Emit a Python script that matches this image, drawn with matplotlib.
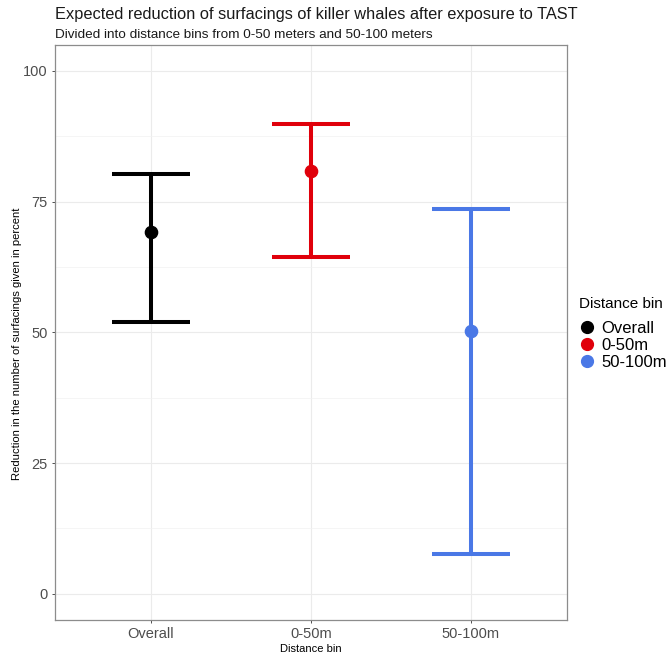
import matplotlib
matplotlib.use("Agg")
import matplotlib.pyplot as plt
from matplotlib.lines import Line2D

plt.rcParams['font.family'] = ['Liberation Sans', 'DejaVu Sans']

categories = ["Overall", "0-50m", "50-100m"]
estimate = [69.2, 80.8, 50.2]
lower = [52.0, 64.4, 7.7]
upper = [80.2, 89.8, 73.5]
colors = ["#000000", "#E0000B", "#4A78E6"]
yticks = [0, 25, 50, 75, 100]

W, H = 672, 658
fig = plt.figure(figsize=(W/100, H/100), dpi=100)
ax = fig.add_axes([54.7/W, 1-620/H, (567-54.7)/W, (620-44.7)/H])

xs = list(range(len(categories)))
half = 0.245
for x, e, lo, hi, c in zip(xs, estimate, lower, upper, colors):
    ax.vlines(x, lo, hi, color=c, lw=2.9, capstyle='butt', zorder=3)
    ax.hlines([lo, hi], x - half, x + half, color=c, lw=2.9, capstyle='butt', zorder=3)
    ax.plot(x, e, 'o', color=c, ms=8.8, zorder=4)

ax.set_xlim(-0.6, len(categories) - 1 + 0.6)
ax.set_ylim(-5, 105)
ax.set_xticks(xs)
ax.set_xticklabels(categories)
ax.set_yticks(yticks)
ax.set_yticks([12.5, 37.5, 62.5, 87.5], minor=True)
ax.grid(True, which='major', color='#EBEBEB', lw=0.8)
ax.grid(True, which='minor', axis='y', color='#F2F2F2', lw=0.5)
ax.set_axisbelow(True)
ax.tick_params(axis='both', which='major', colors='#333333', labelcolor='#4D4D4D',
               labelsize=10.5, length=2.5, width=0.6, pad=2.5)
ax.tick_params(axis='both', which='minor', length=0)
for s in ax.spines.values():
    s.set_color('#8C8C8C')
    s.set_linewidth(0.9)

ax.set_xlabel("Distance bin", fontsize=8, color='black', labelpad=2)
ax.set_ylabel("Reduction in the number of surfacings given in percent", fontsize=8.1,
              color='black')
ax.yaxis.set_label_coords((22 - 54.7) / (567 - 54.7), 0.48)

fig.text(55/W, 1-15/H, "Expected reduction of surfacings of killer whales after exposure to TAST",
         fontsize=11.8, ha='left', va='center', color='#1A1A1A')
fig.text(55/W, 1-35/H, "Divided into distance bins from 0-50 meters and 50-100 meters",
         fontsize=9.7, ha='left', va='center', color='#1A1A1A')

fig.text(579/W, 1-304/H, "Distance bin", fontsize=11, ha='left', va='center', color='black')
handles = [Line2D([], [], marker='o', ls='none', color=c, ms=8.5) for c in colors]
leg = fig.legend(handles, categories, loc='upper left',
                 bbox_to_anchor=(580/W, 1-321/H), frameon=False, fontsize=12,
                 handlelength=0.8, handletextpad=0.5,
                 labelspacing=0.12, borderaxespad=0, borderpad=0)

fig.savefig("out.png", dpi=100)
